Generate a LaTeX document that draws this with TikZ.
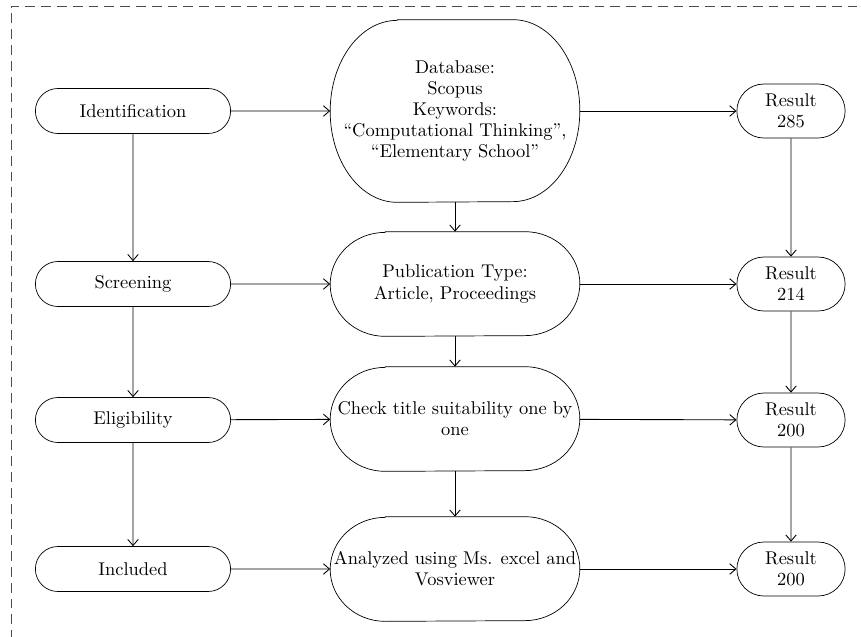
\documentclass[tikz,border=0pt]{standalone}
\usetikzlibrary{shapes.misc,arrows.meta}
\begin{document}
\begin{tikzpicture}[
    x={(0.02cm,0cm)}, y={(0cm,-0.02cm)},
    >={Straight Barb[length=3.5pt,width=6pt]},
    every node/.style={font=\fontsize{10.5}{12}\selectfont,align=center},
    stage/.style={draw,rounded rectangle,minimum width=4.14cm,minimum height=0.9cm},
    result/.style={draw,rounded rectangle,minimum width=2.4cm,minimum height=1.08cm},
    filter/.style={inner xsep=0pt,minimum width=4.98cm,minimum height=2.08cm},
    flow/.style={->,line width=0.5pt}]
    \useasboundingbox (0,0) rectangle (861,636);
    \draw[dashed,black!70,dash pattern=on 5.6pt off 3.4pt] (11,640) -- (11,6) -- (865,6);

    \node[stage] (ident) at (133,111) {Identification};
    \node[stage] (screen) at (133,284) {Screening};
    \node[stage] (elig) at (133,420) {Eligibility};
    \node[stage] (incl) at (133,569) {Included};

    \node[filter,minimum height=3.64cm] (db) at (455,111)
        {Database:\\Scopus\\Keywords:\\``Computational Thinking'',\\``Elementary School''};
    \node[filter] (pub) at (455,284) {Publication Type:\\Article, Proceedings};
    \node[filter] (check) at (455,419) {Check title suitability one by\\one};
    \node[filter] (anal) at (455,569) {Analyzed using Ms. excel and\\Vosviewer};

    % outlines with elliptic ends
    \foreach \n/\rx/\ry in {db/1.34cm/1.82cm, pub/1.1cm/1.04cm,
        check/1.1cm/1.04cm, anal/1.1cm/1.04cm}
        \draw ([xshift=\rx]\n.north west) -- ([xshift=-\rx]\n.north east)
            arc[start angle=90,end angle=-90,x radius=\rx,y radius=\ry]
            -- ([xshift=\rx]\n.south west)
            arc[start angle=270,end angle=90,x radius=\rx,y radius=\ry] -- cycle;

    \node[result] (res1) at (791,111) {Result\\285};
    \node[result] (res2) at (791,284) {Result\\214};
    \node[result] (res3) at (791,420) {Result\\200};
    \node[result] (res4) at (791,569) {Result\\200};

    \draw[flow] (ident) -- (db);
    \draw[flow] (db) -- (res1);
    \draw[flow] (screen) -- (pub);
    \draw[flow] (pub) -- (res2);
    \draw[flow] (elig) -- (check);
    \draw[flow] (check) -- (res3);
    \draw[flow] (incl) -- (anal);
    \draw[flow] (anal) -- (res4);

    \draw[flow] (ident) -- (screen);
    \draw[flow] (screen) -- (elig);
    \draw[flow] (elig) -- (incl);
    \draw[flow] (db) -- (pub);
    \draw[flow] (pub) -- (check);
    \draw[flow] (check) -- (anal);
    \draw[flow] (res1) -- (res2);
    \draw[flow] (res2) -- (res3);
    \draw[flow] (res3) -- (res4);
\end{tikzpicture}
\end{document}
